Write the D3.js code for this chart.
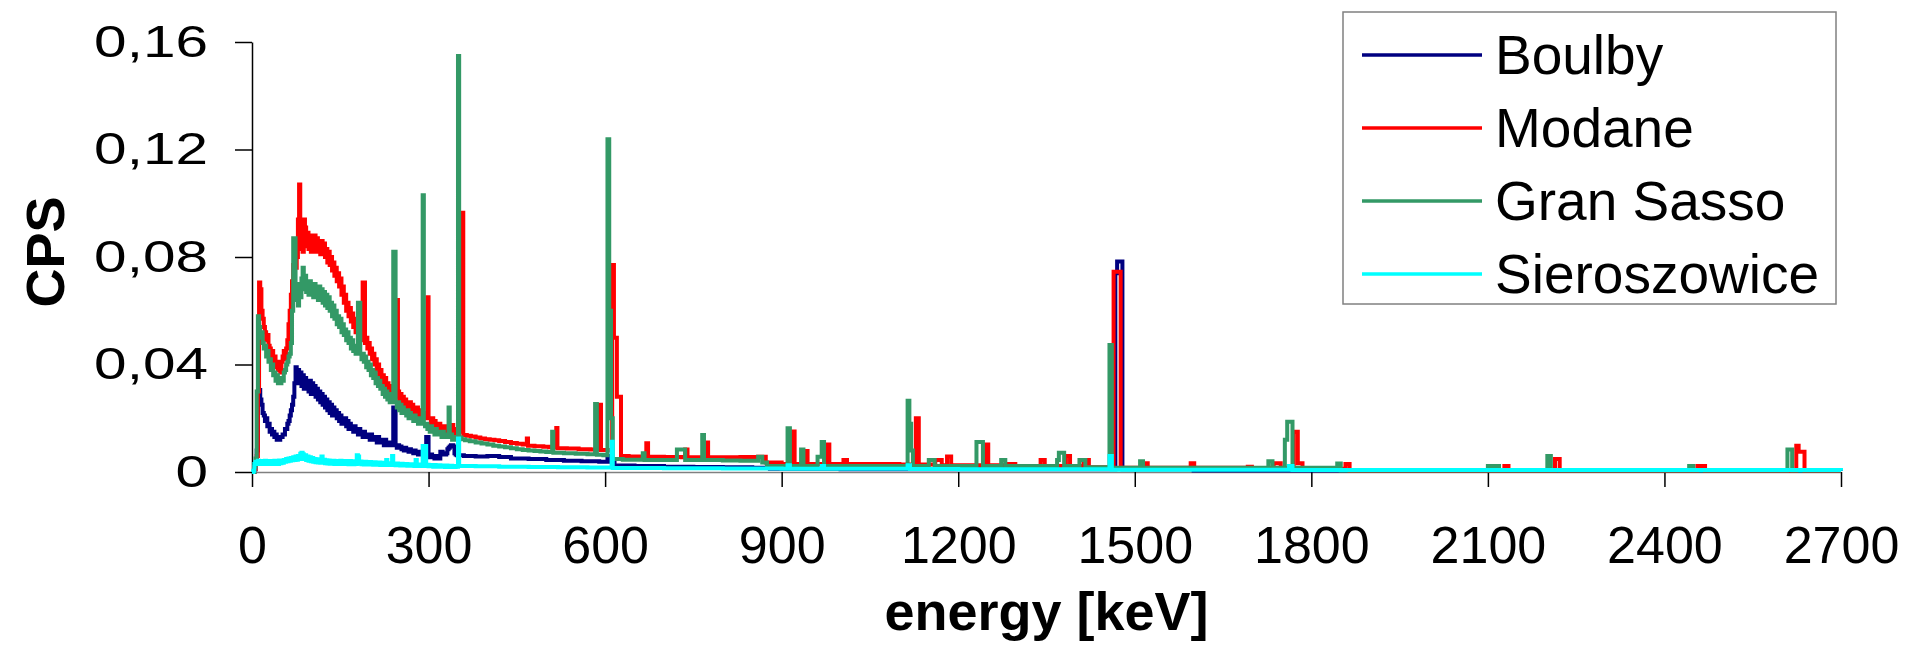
<!DOCTYPE html>
<html>
    <head>
        <meta charset="utf-8" />
        <title>Background spectra of underground labs</title>
        <script src="https://d3js.org/d3.v7.min.js"></script>
        <style>
            body {
                margin: 0;
                padding: 0;
                background: #ffffff;
                font-family: "Liberation Sans", Arial, sans-serif;
            }
            svg {
                display: block;
            }
        </style>
    </head>
    <body>
        <svg id="chart" width="1906" height="645"></svg>

        <script>
            // Low energy part: CPS per 2 keV bin, bins start at 0, 2, 4 ... 346 keV
            const binWidth = 2;

            const boulbyLow = [
                0, 0, 0.001, 0.003, 0.008, 0.028, 0.0305, 0.027, 0.025, 0.022,
                0.021, 0.019, 0.02, 0.017, 0.018, 0.015, 0.016, 0.014, 0.015, 0.013,
                0.014, 0.012, 0.013, 0.012, 0.013, 0.013, 0.014, 0.014, 0.016, 0.016,
                0.018, 0.019, 0.021, 0.023, 0.025, 0.028, 0.033, 0.039, 0.035, 0.038,
                0.033, 0.037, 0.032, 0.036, 0.031, 0.035, 0.031, 0.034, 0.03, 0.034,
                0.029, 0.033, 0.029, 0.032, 0.028, 0.031, 0.027, 0.03, 0.026, 0.029,
                0.025, 0.028, 0.024, 0.027, 0.023, 0.026, 0.022, 0.025, 0.021, 0.024,
                0.021, 0.023, 0.02, 0.022, 0.019, 0.021, 0.018, 0.02, 0.018, 0.02,
                0.017, 0.019, 0.016, 0.018, 0.016, 0.017, 0.015, 0.017, 0.015, 0.016,
                0.014, 0.016, 0.014, 0.015, 0.013, 0.015, 0.013, 0.014, 0.013, 0.014,
                0.012, 0.014, 0.012, 0.013, 0.012, 0.013, 0.011, 0.013, 0.011, 0.012,
                0.011, 0.012, 0.01, 0.012, 0.01, 0.011, 0.01, 0.011, 0.01, 0.011,
                0.024, 0.024, 0.01, 0.009, 0.01, 0.009, 0.0095, 0.0085, 0.009, 0.008,
                0.009, 0.008, 0.0085, 0.0075, 0.0085, 0.0075, 0.008, 0.007, 0.008, 0.007,
                0.0075, 0.0065, 0.0075, 0.0065, 0.007, 0.0065, 0.007, 0.006, 0.013, 0.013,
                0.006, 0.0055, 0.0065, 0.0055, 0.006, 0.005, 0.006, 0.005, 0.0055, 0.005,
                0.0075, 0.0075, 0.0065, 0.007, 0.0065, 0.007, 0.0085, 0.009, 0.0095, 0.01,
                0.01, 0.0095, 0.007, 0.0065
            ];

            const modaneLow = [
                0, 0, 0.001, 0.003, 0.006, 0.03, 0.0705, 0.068, 0.06, 0.057,
                0.054, 0.052, 0.049, 0.051, 0.047, 0.046, 0.043, 0.045, 0.041, 0.043,
                0.039, 0.041, 0.038, 0.04, 0.037, 0.041, 0.043, 0.045, 0.042, 0.046,
                0.049, 0.055, 0.06, 0.066, 0.071, 0.077, 0.079, 0.076, 0.08, 0.094,
                0.107, 0.083, 0.088, 0.082, 0.094, 0.091, 0.084, 0.089, 0.083, 0.088,
                0.082, 0.087, 0.083, 0.088, 0.082, 0.087, 0.082, 0.086, 0.081, 0.086,
                0.081, 0.085, 0.08, 0.083, 0.078, 0.082, 0.077, 0.08, 0.075, 0.078,
                0.073, 0.076, 0.071, 0.074, 0.069, 0.072, 0.066, 0.069, 0.063, 0.066,
                0.06, 0.063, 0.058, 0.061, 0.056, 0.059, 0.054, 0.057, 0.052, 0.055,
                0.05, 0.053, 0.049, 0.051, 0.0705, 0.0705, 0.048, 0.05, 0.046, 0.048,
                0.044, 0.046, 0.042, 0.044, 0.04, 0.042, 0.038, 0.04, 0.036, 0.038,
                0.034, 0.036, 0.033, 0.035, 0.031, 0.033, 0.03, 0.032, 0.029, 0.031,
                0.029, 0.03, 0.028, 0.064, 0.03, 0.027, 0.029, 0.026, 0.028, 0.025,
                0.027, 0.024, 0.026, 0.024, 0.026, 0.023, 0.025, 0.022, 0.024, 0.022,
                0.024, 0.021, 0.023, 0.021, 0.022, 0.02, 0.022, 0.02, 0.021, 0.065,
                0.02, 0.02, 0.018, 0.02, 0.017, 0.019, 0.017, 0.018, 0.016, 0.018,
                0.016, 0.017, 0.015, 0.017, 0.015, 0.016, 0.015, 0.016, 0.015, 0.0175,
                0.0175, 0.015, 0.016, 0.014
            ];

            const granSassoLow = [
                0, 0, 0.002, 0.005, 0.03, 0.058, 0.054, 0.05, 0.052, 0.048,
                0.046, 0.047, 0.043, 0.045, 0.041, 0.042, 0.038, 0.04, 0.036, 0.037,
                0.034, 0.036, 0.033, 0.035, 0.033, 0.035, 0.034, 0.037, 0.038, 0.04,
                0.041, 0.043, 0.044, 0.048, 0.06, 0.087, 0.087, 0.064, 0.07, 0.062,
                0.068, 0.065, 0.072, 0.076, 0.068, 0.073, 0.067, 0.071, 0.066, 0.071,
                0.066, 0.07, 0.065, 0.07, 0.065, 0.069, 0.064, 0.069, 0.064, 0.068,
                0.063, 0.067, 0.062, 0.066, 0.061, 0.065, 0.06, 0.063, 0.058, 0.062,
                0.057, 0.06, 0.055, 0.058, 0.054, 0.057, 0.052, 0.055, 0.051, 0.053,
                0.049, 0.052, 0.048, 0.05, 0.046, 0.049, 0.045, 0.047, 0.044, 0.046,
                0.063, 0.063, 0.044, 0.042, 0.044, 0.041, 0.043, 0.039, 0.041, 0.038,
                0.04, 0.036, 0.038, 0.035, 0.037, 0.033, 0.035, 0.032, 0.034, 0.031,
                0.032, 0.029, 0.031, 0.028, 0.03, 0.027, 0.029, 0.026, 0.028, 0.026,
                0.082, 0.082, 0.026, 0.024, 0.026, 0.023, 0.025, 0.022, 0.024, 0.022,
                0.023, 0.021, 0.023, 0.02, 0.022, 0.02, 0.021, 0.019, 0.021, 0.019,
                0.02, 0.018, 0.02, 0.018, 0.019, 0.103, 0.018, 0.017, 0.018, 0.016,
                0.017, 0.015, 0.017, 0.015, 0.016, 0.014, 0.016, 0.014, 0.015, 0.014,
                0.015, 0.013, 0.015, 0.013, 0.014, 0.013, 0.014, 0.024, 0.013, 0.014,
                0.012, 0.013, 0.012, 0.013
            ];

            const sieroszowiceLow = [
                0, 0.0005, 0.003, 0.0038, 0.0032, 0.0042, 0.003, 0.004, 0.0033, 0.0041,
                0.003, 0.0042, 0.0032, 0.0039, 0.003, 0.0041, 0.0033, 0.004, 0.003, 0.0042,
                0.0032, 0.004, 0.003, 0.0043, 0.0033, 0.004, 0.0034, 0.0045, 0.0038, 0.0048,
                0.004, 0.005, 0.0042, 0.0052, 0.0044, 0.0055, 0.0045, 0.0058, 0.0046, 0.006,
                0.0048, 0.0068, 0.0072, 0.0066, 0.0048, 0.0062, 0.0045, 0.0058, 0.0042, 0.0055,
                0.004, 0.0052, 0.0038, 0.0048, 0.0036, 0.0047, 0.0035, 0.0045, 0.0034, 0.0058,
                0.0035, 0.0046, 0.0033, 0.0044, 0.0032, 0.0043, 0.0031, 0.0042, 0.0032, 0.0042,
                0.003, 0.0041, 0.0031, 0.004, 0.003, 0.0042, 0.0031, 0.004, 0.003, 0.0041,
                0.003, 0.004, 0.0029, 0.0041, 0.003, 0.0039, 0.0029, 0.004, 0.003, 0.0062,
                0.0058, 0.0031, 0.0039, 0.0029, 0.0038, 0.0028, 0.0038, 0.0029, 0.0037, 0.0028,
                0.0037, 0.0028, 0.0036, 0.0027, 0.0036, 0.0028, 0.0035, 0.0027, 0.0035, 0.0026,
                0.0034, 0.0027, 0.0034, 0.0026, 0.0045, 0.0027, 0.0033, 0.0026, 0.0033, 0.006,
                0.0026, 0.0032, 0.0025, 0.0032, 0.0025, 0.0031, 0.0024, 0.0031, 0.0025, 0.003,
                0.0024, 0.003, 0.0023, 0.0029, 0.0024, 0.0029, 0.0023, 0.0028, 0.0022, 0.0045,
                0.0023, 0.0028, 0.0022, 0.0028, 0.0022, 0.0097, 0.0097, 0.0097, 0.0022, 0.0027,
                0.0021, 0.0026, 0.0021, 0.0026, 0.002, 0.0026, 0.0021, 0.0025, 0.002, 0.0025,
                0.002, 0.0024, 0.002, 0.0024, 0.0019, 0.0024, 0.002, 0.0023, 0.0019, 0.0023,
                0.0019, 0.0022, 0.0019, 0.0022
            ];

            // Higher energies: [energy keV, CPS], value holds until the next point
            const boulbyHigh = [
                [348, 0.0062], [360, 0.006], [380, 0.0058], [400, 0.006], [420, 0.0056], [440, 0.005],
                [470, 0.0048], [500, 0.0045], [530, 0.0042], [560, 0.004], [590, 0.0038], [604, 0.006],
                [609, 0.0038], [616, 0.0024], [650, 0.0022], [700, 0.002], [750, 0.0019], [800, 0.0018],
                [850, 0.0016], [880, 0.0012], [1000, 0.001], [1200, 0.001], [1467, 0.074], [1470, 0.0783],
                [1479, 0.001], [1600, 0.0006], [2700, 0.0005]
            ];

            const modaneHigh = [
                [348, 0.015], [357, 0.0965], [359, 0.0138], [365, 0.0135], [372, 0.0132], [380, 0.0128],
                [388, 0.0125], [396, 0.0122], [404, 0.012], [412, 0.0118], [420, 0.0115], [430, 0.0112],
                [440, 0.0108], [450, 0.0105], [460, 0.0102], [467, 0.0125], [469, 0.0098], [480, 0.0096],
                [495, 0.0094], [505, 0.0092], [517, 0.0164], [519, 0.0088], [535, 0.0087], [555, 0.0085],
                [575, 0.0084], [590, 0.025], [593, 0.0082], [605, 0.008], [612, 0.077], [615, 0.05],
                [620, 0.028], [627, 0.006], [640, 0.0058], [660, 0.0057], [670, 0.0107], [673, 0.0057],
                [700, 0.0056], [730, 0.0055], [736, 0.0084], [740, 0.0055], [772, 0.011], [775, 0.0055],
                [800, 0.0055], [830, 0.0056], [860, 0.0057], [873, 0.0035], [900, 0.003], [918, 0.0151],
                [922, 0.003], [940, 0.0078], [944, 0.003], [977, 0.0102], [981, 0.003], [1005, 0.0045],
                [1011, 0.003], [1060, 0.003], [1100, 0.0028], [1128, 0.02], [1133, 0.0028],
                [1161, 0.0045], [1172, 0.0025], [1181, 0.0058], [1188, 0.0025], [1245, 0.0102],
                [1251, 0.0025], [1282, 0.003], [1297, 0.0022], [1340, 0.0045], [1347, 0.0022],
                [1383, 0.006], [1390, 0.0022], [1413, 0.0045], [1422, 0.0018], [1464, 0.0745],
                [1476, 0.0016], [1516, 0.0033], [1522, 0.0016], [1595, 0.0033], [1601, 0.0016],
                [1692, 0.002], [1699, 0.0014], [1736, 0.0033], [1748, 0.0014], [1770, 0.015],
                [1777, 0.0033], [1785, 0.0012], [1858, 0.003], [1865, 0.0005], [2128, 0.0022],
                [2135, 0.0005], [2214, 0.0048], [2222, 0.0005], [2456, 0.0022], [2469, 0.0005],
                [2624, 0.0098], [2628, 0.0075], [2638, 0.0005], [2700, 0.0005]
            ];

            const granSassoHigh = [
                [348, 0.012], [350, 0.1548], [352, 0.0128], [356, 0.0122], [362, 0.0118], [370, 0.0114],
                [380, 0.011], [390, 0.0106], [400, 0.0102], [410, 0.0098], [420, 0.0095], [430, 0.0092],
                [440, 0.0088], [450, 0.0085], [460, 0.0082], [470, 0.008], [480, 0.0078], [490, 0.0076],
                [500, 0.0074], [510, 0.015], [512, 0.0072], [530, 0.007], [550, 0.0068], [570, 0.0066],
                [583, 0.0253], [586, 0.0064], [597, 0.0062], [604, 0.1238], [607, 0.06], [610, 0.02],
                [613, 0.0048], [630, 0.0046], [650, 0.0046], [664, 0.007], [667, 0.0045], [700, 0.0045],
                [722, 0.0084], [736, 0.0045], [765, 0.0138], [768, 0.0045], [800, 0.0043], [830, 0.0042],
                [860, 0.0057], [867, 0.0035], [875, 0.0022], [910, 0.0163], [914, 0.0022], [933, 0.0084],
                [937, 0.0022], [961, 0.0057], [968, 0.0112], [972, 0.0022], [1000, 0.0022],
                [1114, 0.0265], [1117, 0.018], [1120, 0.008], [1123, 0.0022], [1150, 0.0045],
                [1160, 0.0022], [1231, 0.0112], [1242, 0.0022], [1273, 0.0045], [1280, 0.0022],
                [1368, 0.0045], [1371, 0.0072], [1380, 0.0022], [1406, 0.0045], [1416, 0.0018],
                [1457, 0.0473], [1461, 0.0016], [1509, 0.004], [1514, 0.0016], [1727, 0.004],
                [1734, 0.0016], [1755, 0.012], [1759, 0.0187], [1768, 0.0016], [1844, 0.0032],
                [1850, 0.0006], [2100, 0.0022], [2107, 0.0006], [2113, 0.0022], [2119, 0.0006],
                [2201, 0.006], [2207, 0.0006], [2442, 0.0022], [2449, 0.0006], [2609, 0.0084],
                [2617, 0.0006], [2700, 0.0006]
            ];

            const sieroszowiceHigh = [
                [348, 0.002], [350, 0.0125], [352, 0.0022], [380, 0.0021], [420, 0.002], [470, 0.0019],
                [520, 0.0018], [570, 0.0017], [611, 0.0113], [613, 0.0015], [700, 0.0014], [800, 0.0013],
                [900, 0.0012], [910, 0.0025], [914, 0.0012], [968, 0.0022], [972, 0.0012], [1114, 0.0025],
                [1118, 0.0011], [1200, 0.001], [1300, 0.001], [1457, 0.006], [1461, 0.0008],
                [1762, 0.0022], [1768, 0.0007], [2700, 0.0005]
            ];

            const seriesNames = ["Boulby", "Modane", "Gran Sasso", "Sieroszowice"];
            const seriesColors = ["#000080", "#ff0000", "#339966", "#00ffff"];
            const xTicks = [0, 300, 600, 900, 1200, 1500, 1800, 2100, 2400, 2700];
            const yTicks = [0, 0.04, 0.08, 0.12, 0.16];

            // join the binned part and the sparse part of one spectrum
            function spectrum(low, high) {
                return low.map((v, i) => [i * binWidth, v]).concat(high);
            }

            const spectra = [
                spectrum(boulbyLow, boulbyHigh),
                spectrum(modaneLow, modaneHigh),
                spectrum(granSassoLow, granSassoHigh),
                spectrum(sieroszowiceLow, sieroszowiceHigh),
            ];

            const svg = d3.select("#chart");

            // Plot area
            const plotLeft = 252;
            const plotRight = 1841;
            const plotTop = 42;
            const plotBottom = 472;

            const xScale = d3.scaleLinear().domain([0, 2700]).range([plotLeft, plotRight]);
            const yScale = d3.scaleLinear().domain([0, 0.16]).range([plotBottom, plotTop]);

            const fmtY = (d) => (d === 0 ? "0" : d3.format(".2f")(d).replace(".", ","));

            // Axes
            const xAxis = svg
                .append("g")
                .attr("transform", `translate(0,${plotBottom})`)
                .call(
                    d3
                        .axisBottom(xScale)
                        .tickValues(xTicks)
                        .tickSize(15)
                        .tickSizeOuter(0)
                        .tickPadding(39)
                        .tickFormat(d3.format("d")),
                );
            xAxis.select(".domain").attr("stroke", "#808080").attr("stroke-width", 1.5);
            xAxis.selectAll(".tick line").attr("stroke", "#000").attr("stroke-width", 1.5);
            xAxis.selectAll(".tick text")
                .attr("fill", "#000")
                .style("font-family", '"Liberation Sans", Arial, sans-serif')
                .style("font-size", "52px");

            const yAxis = svg
                .append("g")
                .attr("transform", `translate(${plotLeft},0)`)
                .call(
                    d3
                        .axisLeft(yScale)
                        .tickValues(yTicks)
                        .tickSize(17)
                        .tickSizeOuter(0)
                        .tickPadding(25)
                        .tickFormat(fmtY),
                );
            yAxis.select(".domain").attr("stroke", "#000").attr("stroke-width", 1.5);
            yAxis.selectAll(".tick line").attr("stroke", "#000").attr("stroke-width", 1.5);
            // the value labels on the left are drawn wide in the original
            yAxis.selectAll(".tick text")
                .attr("fill", "#000")
                .attr("x", -44 / 1.33)
                .attr("transform", "scale(1.33,1)")
                .style("font-family", '"Liberation Sans", Arial, sans-serif')
                .style("font-size", "44px");

            // Spectra
            const line = d3
                .line()
                .x((d) => xScale(d[0]))
                .y((d) => yScale(d[1]))
                .curve(d3.curveStepAfter);

            svg.append("g")
                .selectAll("path")
                .data(spectra)
                .enter()
                .append("path")
                .attr("d", (d) => line(d))
                .attr("fill", "none")
                .attr("stroke", (d, i) => seriesColors[i])
                .attr("stroke-width", 4);

            // Axis titles
            svg.append("text")
                .attr("x", (plotLeft + plotRight) / 2)
                .attr("y", 630)
                .attr("text-anchor", "middle")
                .style("font-size", "54px")
                .style("font-weight", "bold")
                .text("energy [keV]");

            svg.append("text")
                .attr("transform", "translate(64,252) rotate(-90)")
                .attr("text-anchor", "middle")
                .style("font-size", "54px")
                .style("font-weight", "bold")
                .text("CPS");

            // Legend
            const legend = svg.append("g");
            legend
                .append("rect")
                .attr("x", 1343)
                .attr("y", 12)
                .attr("width", 493)
                .attr("height", 292)
                .attr("fill", "#fff")
                .attr("stroke", "#808080")
                .attr("stroke-width", 1.5);

            const rows = legend
                .selectAll(".row")
                .data(seriesNames)
                .enter()
                .append("g")
                .attr("class", "row")
                .attr("transform", (d, i) => `translate(0,${55 + i * 73})`);

            rows.append("line")
                .attr("x1", 1362)
                .attr("x2", 1482)
                .attr("stroke", (d, i) => seriesColors[i])
                .attr("stroke-width", 3.5);

            rows.append("text")
                .attr("x", 1495)
                .attr("y", 19)
                .style("font-size", "55px")
                .text((d) => d);
        </script>
    </body>
</html>
